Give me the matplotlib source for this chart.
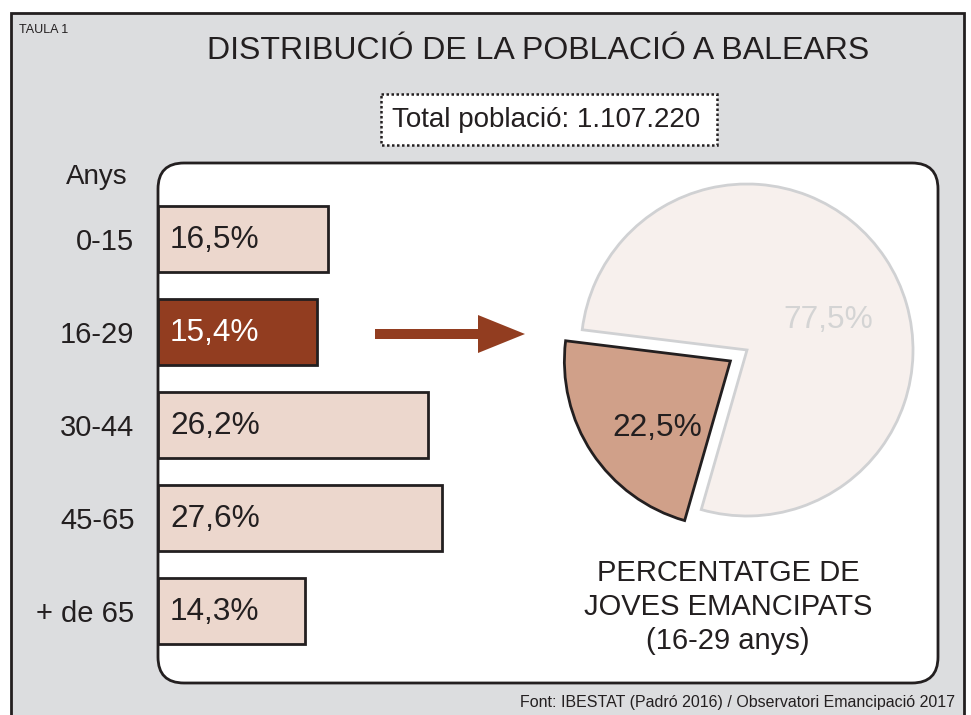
import matplotlib
matplotlib.use("Agg")
import matplotlib.pyplot as plt
from matplotlib.patches import Rectangle, FancyBboxPatch, FancyArrow

plt.rcParams['font.family'] = ['Liberation Sans', 'DejaVu Sans']

# Data
ages = ["0-15", "16-29", "30-44", "45-65", "+ de 65"]
shares = [16.5, 15.4, 26.2, 27.6, 14.3]
highlight = "16-29"
pie_values = [22.5, 77.5]
pie_labels = ["22,5%", "77,5%"]
title = "DISTRIBUCIÓ DE LA POBLACIÓ A BALEARS"
total_text = "Total població: 1.107.220"
pie_caption = "PERCENTATGE DE\nJOVES EMANCIPATS\n(16-29 anys)"
source = "Font: IBESTAT (Padró 2016) / Observatori Emancipació 2017"

# Colours
bg_gray = "#dcdddf"
txt = "#231f20"
bar_light = "#ecd7cd"
bar_dark = "#923d20"
pie_dark = "#d0a089"
pie_light = "#f7f0ed"
pie_edge = "#d0d1d3"

W, H = 971, 715
fig = plt.figure(figsize=(W / 100, H / 100), dpi=100)

# background layer in pixel coordinates
bg = fig.add_axes([0, 0, 1, 1])
bg.set_xlim(0, W)
bg.set_ylim(H, 0)
bg.axis("off")

bg.add_patch(Rectangle((11, 13), 953, 740, facecolor=bg_gray, edgecolor="#231f20", lw=2))
bg.add_patch(FancyBboxPatch((158, 163), 780, 520, boxstyle="round,pad=0,rounding_size=26",
                            facecolor="white", edgecolor="#231f20", lw=2))
bg.add_patch(Rectangle((381, 94), 336, 51, facecolor="white", edgecolor="#231f20",
                       lw=1.8, linestyle=(0, (1, 1))))

bg.text(19, 30, "TAULA 1", fontsize=9, color=txt, va="center", ha="left")
bg.text(538, 51, title, fontsize=23, color=txt, va="center", ha="center")
bg.text(546, 120, total_text, fontsize=20, color=txt, va="center", ha="center")
bg.text(97, 177, "Anys", fontsize=20, color=txt, va="center", ha="center")
bg.text(728, 607, pie_caption, fontsize=21, color=txt, va="center", ha="center",
        linespacing=1.27)
bg.text(955, 703, source, fontsize=11.5, color=txt, va="center", ha="right")

bg.add_patch(FancyArrow(375, 334, 150, 0, width=10, head_width=38, head_length=47,
                        length_includes_head=True, color=bar_dark, lw=0))

# bar chart
px = 10.3  # pixels per percent point
bar_w_px = 32 * px
ax = fig.add_axes([158 / W, 1 - 658 / H, bar_w_px / W, 466 / H])
ax.set_xlim(0, 32)
ax.set_ylim(4.5, -0.5)
colors = [bar_dark if a == highlight else bar_light for a in ages]
ax.barh(range(len(ages)), shares, height=0.71, color=colors, edgecolor="#231f20", lw=2)
for i, (a, v) in enumerate(zip(ages, shares)):
    ax.annotate(f"{v:.1f}%".replace(".", ","), xy=(0, i), xytext=(12, -1),
                textcoords="offset pixels", va="center", ha="left", fontsize=22.8,
                color="white" if a == highlight else txt)
ax.set_yticks(range(len(ages)))
ax.set_yticklabels(ages, fontsize=21, color=txt)
ax.tick_params(axis="y", length=0, pad=17)
ax.set_xticks([])
for s in ax.spines.values():
    s.set_visible(False)
ax.patch.set_alpha(0)

# pie chart
r_px = 166
side = 2.5 * r_px
cx, cy = 747, 350
pax = fig.add_axes([(cx - side / 2) / W, 1 - (cy + side / 2) / H, side / W, side / H])
wedges, _ = pax.pie(pie_values, colors=[pie_dark, pie_light], startangle=173,
                    explode=[0.12, 0], wedgeprops=dict(lw=2))
wedges[0].set_edgecolor("#231f20")
wedges[1].set_edgecolor(pie_edge)
pax.set_xlim(-1.25, 1.25)
pax.set_ylim(-1.25, 1.25)
pax.set_aspect("equal")
pax.text(-0.54, -0.47, pie_labels[0], fontsize=22.8, color=txt, ha="center", va="center")
pax.text(0.49, 0.18, pie_labels[1], fontsize=22.8, color="#d4d4d4", ha="center", va="center")

fig.savefig("out.png", dpi=100)
